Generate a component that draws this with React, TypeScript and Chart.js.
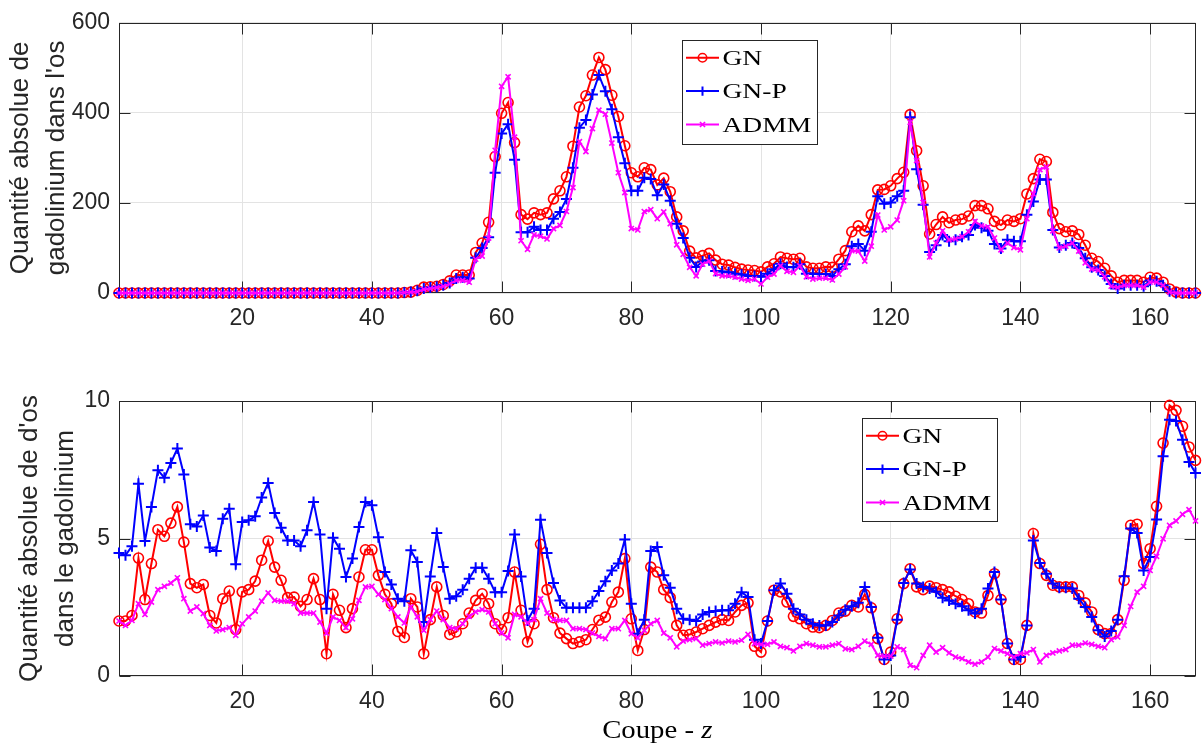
import React, { useEffect, useRef } from 'react';
import { Chart, registerables } from 'chart.js';

Chart.register(...registerables);

// ---------- data ----------
const slices = Array.from({ length: 167 }, (_, i) => i + 1);
const xTickValues = [20, 40, 60, 80, 100, 120, 140, 160];
const topYTicks = [0, 200, 400, 600];
const bottomYTicks = [0, 5, 10];
const seriesNames = ['GN', 'GN-P', 'ADMM'];
const topYTitle = ['Quantité absolue de', "gadolinium dans l'os"];
const bottomYTitle = ["Quantité absolue de d'os", 'dans le gadolinium'];
const xTitleMain = 'Coupe - ';
const xTitleVar = 'z';

const gadoGN = [
  0, 0, 0, 0, 0, 0, 0, 0, 0, 0,
  0, 0, 0, 0, 0, 0, 0, 0, 0, 0,
  0, 0, 0, 0, 0, 0, 0, 0, 0, 0,
  0, 0, 0, 0, 0, 0, 0, 0, 0, 0,
  0, 0, 0, 0, 1, 2, 6, 13, 14, 15,
  19, 27, 40, 40, 40, 90, 111, 157, 303, 399,
  423, 334, 174, 164, 178, 174, 178, 209, 227, 258,
  326, 413, 438, 484, 523, 496, 439, 392, 327, 267,
  258, 278, 274, 240, 255, 225, 169, 138, 93, 78,
  83, 88, 73, 64, 62, 57, 53, 51, 50, 47,
  58, 65, 80, 77, 75, 77, 58, 55, 55, 58,
  57, 75, 94, 136, 149, 138, 174, 229, 230, 238,
  254, 268, 396, 316, 238, 131, 152, 169, 156, 162,
  164, 171, 194, 194, 187, 159, 151, 162, 159, 165,
  220, 254, 297, 292, 179, 143, 136, 138, 130, 106,
  77, 70, 55, 38, 24, 28, 28, 28, 24, 35,
  33, 24, 9, 2, 0, 0, 0,
];

const gadoGNP = [
  0, 0, 0, 0, 0, 0, 0, 0, 0, 0,
  0, 0, 0, 0, 0, 0, 0, 0, 0, 0,
  0, 0, 0, 0, 0, 0, 0, 0, 0, 0,
  0, 0, 0, 0, 0, 0, 0, 0, 0, 0,
  0, 0, 0, 0, 1, 2, 5, 10, 12, 14,
  17, 22, 32, 35, 32, 78, 100, 124, 267, 354,
  375, 296, 135, 135, 147, 140, 140, 165, 180, 209,
  278, 367, 384, 441, 484, 448, 408, 346, 288, 227,
  227, 256, 253, 217, 241, 205, 154, 122, 78, 58,
  70, 73, 49, 48, 46, 43, 41, 38, 38, 36,
  43, 53, 65, 58, 57, 64, 43, 43, 42, 42,
  38, 53, 64, 104, 109, 94, 136, 215, 198, 201,
  215, 227, 390, 275, 196, 91, 106, 129, 115, 118,
  125, 129, 151, 145, 138, 109, 99, 118, 115, 115,
  174, 203, 252, 252, 140, 101, 106, 111, 100, 77,
  57, 51, 38, 20, 10, 17, 17, 17, 15, 28,
  26, 17, 4, 0, 0, 0, 0,
];

const gadoADMM = [
  0, 0, 0, 0, 0, 0, 0, 0, 0, 0,
  0, 0, 0, 0, 0, 0, 0, 0, 0, 0,
  0, 0, 0, 0, 0, 0, 0, 0, 0, 0,
  0, 0, 0, 0, 0, 0, 0, 0, 0, 0,
  0, 0, 0, 0, 1, 2, 3, 8, 10, 12,
  15, 20, 28, 28, 24, 75, 82, 122, 317, 459,
  480, 346, 116, 97, 129, 126, 120, 143, 150, 181,
  234, 336, 314, 365, 406, 397, 333, 267, 223, 143,
  140, 181, 185, 165, 180, 154, 107, 86, 57, 38,
  64, 71, 43, 38, 38, 35, 31, 28, 31, 20,
  35, 42, 60, 48, 46, 60, 36, 31, 33, 33,
  29, 42, 58, 94, 93, 71, 104, 173, 140, 147,
  162, 205, 379, 294, 201, 80, 111, 138, 118, 120,
  125, 136, 159, 149, 147, 122, 96, 111, 101, 96,
  165, 220, 274, 280, 138, 100, 104, 111, 93, 67,
  53, 51, 36, 15, 12, 17, 17, 17, 13, 24,
  24, 17, 2, 0, 0, 0, 0,
];

const boneGN = [
  2.0, 2.0, 2.2, 4.29, 2.78, 4.09, 5.32, 5.08, 5.56, 6.15,
  4.87, 3.36, 3.21, 3.33, 2.2, 1.93, 2.81, 3.09, 1.69, 3.06,
  3.14, 3.45, 4.21, 4.91, 3.96, 3.48, 2.85, 2.87, 2.53, 2.78,
  3.54, 2.78, 0.81, 2.97, 2.39, 1.76, 2.45, 3.6, 4.59, 4.59,
  3.66, 2.97, 2.63, 1.62, 1.4, 2.81, 2.51, 0.81, 2.05, 3.24,
  2.2, 1.51, 1.6, 1.9, 2.29, 2.75, 2.99, 2.63, 1.9, 1.69,
  2.12, 3.78, 2.39, 1.24, 1.9, 4.79, 3.14, 2.12, 1.56, 1.36,
  1.18, 1.24, 1.32, 1.69, 2.03, 2.14, 2.69, 3.05, 4.27, 2.08,
  0.93, 1.69, 3.96, 3.78, 3.14, 2.85, 1.84, 1.48, 1.51, 1.6,
  1.72, 1.84, 1.96, 2.05, 2.02, 2.33, 2.57, 2.66, 1.08, 0.87,
  2.0, 3.12, 3.06, 2.69, 2.17, 2.08, 1.9, 1.78, 1.76, 1.84,
  2.02, 2.29, 2.36, 2.57, 2.51, 2.97, 2.48, 1.36, 0.6, 0.87,
  2.08, 3.36, 3.9, 3.24, 3.14, 3.27, 3.21, 3.14, 3.06, 2.9,
  2.78, 2.63, 2.33, 2.29, 2.93, 3.72, 2.78, 1.18, 0.6, 0.6,
  1.84, 5.18, 4.09, 3.66, 3.3, 3.24, 3.24, 3.24, 2.93, 2.66,
  2.33, 1.69, 1.54, 1.54, 2.05, 3.48, 5.48, 5.52, 4.09, 4.63,
  6.17, 8.47, 9.84, 9.66, 9.08, 8.33, 7.84,
];

const boneGNP = [
  4.47, 4.39, 4.72, 6.99, 4.91, 6.15, 7.48, 7.21, 7.75, 8.27,
  7.33, 5.52, 5.44, 5.84, 4.67, 4.55, 5.72, 6.08, 4.06, 5.6,
  5.66, 5.81, 6.49, 7.02, 5.93, 5.39, 4.93, 4.93, 4.72, 5.3,
  6.33, 5.15, 2.45, 5.03, 4.63, 3.6, 4.27, 5.42, 6.33, 6.21,
  5.05, 3.78, 3.33, 2.81, 2.72, 4.57, 4.15, 1.96, 3.62, 5.2,
  3.96, 2.81, 2.9, 3.14, 3.54, 3.94, 3.94, 3.54, 3.05, 3.05,
  3.82, 5.15, 3.62, 2.02, 2.45, 5.68, 4.47, 3.38, 2.75, 2.48,
  2.48, 2.48, 2.48, 2.72, 3.09, 3.45, 3.84, 4.09, 4.96, 2.63,
  1.54, 2.05, 4.55, 4.69, 3.66, 3.21, 2.45, 2.08, 2.05, 2.0,
  2.24, 2.33, 2.36, 2.39, 2.39, 2.63, 3.05, 2.87, 1.32, 1.18,
  2.0, 3.12, 3.36, 2.99, 2.45, 2.24, 2.05, 1.9, 1.84, 1.84,
  1.96, 2.2, 2.41, 2.54, 2.66, 3.24, 2.51, 1.39, 0.6, 0.75,
  2.05, 3.38, 3.87, 3.36, 3.24, 3.18, 3.06, 2.85, 2.75, 2.63,
  2.54, 2.39, 2.27, 2.45, 3.18, 3.78, 2.78, 1.18, 0.6, 0.69,
  1.84, 4.93, 4.11, 3.72, 3.36, 3.21, 3.21, 3.18, 2.81, 2.51,
  2.15, 1.66, 1.44, 1.64, 2.05, 3.63, 5.36, 5.2, 3.84, 4.33,
  5.69, 7.99, 9.32, 9.27, 8.59, 7.78, 7.38,
];

const boneADMM = [
  2.0, 1.84, 2.02, 2.63, 2.24, 2.69, 3.14, 3.26, 3.38, 3.57,
  2.81, 2.36, 2.51, 2.27, 1.84, 1.64, 1.69, 1.76, 1.48, 1.9,
  2.15, 2.36, 2.72, 3.02, 2.75, 2.72, 2.72, 2.63, 2.29, 2.29,
  2.29, 1.96, 1.56, 2.15, 2.02, 1.76, 2.08, 2.75, 3.24, 3.26,
  2.97, 2.78, 2.45, 2.15, 1.93, 2.51, 2.15, 1.66, 2.05, 2.36,
  2.05, 1.76, 1.72, 1.9, 2.17, 2.33, 2.41, 2.33, 1.9, 1.56,
  1.39, 2.24, 2.15, 1.93, 2.05, 2.81, 2.29, 2.05, 2.02, 2.02,
  1.72, 1.72, 1.69, 1.56, 1.44, 1.36, 1.72, 1.72, 2.02, 1.54,
  1.39, 1.66, 1.9, 2.02, 1.56, 1.39, 1.06, 1.27, 1.32, 1.36,
  1.12, 1.18, 1.24, 1.2, 1.27, 1.24, 1.3, 1.51, 1.18, 1.15,
  1.15, 1.24, 1.08, 1.03, 0.91, 1.08, 1.18, 1.12, 1.06, 1.06,
  1.12, 1.18, 0.99, 0.96, 1.08, 1.27, 1.15, 0.75, 0.72, 0.72,
  1.06, 0.96, 0.39, 0.3, 0.75, 1.12, 0.87, 1.03, 0.84, 0.69,
  0.63, 0.51, 0.43, 0.51, 0.69, 1.0, 0.91, 0.81, 0.69, 0.81,
  0.84, 0.96, 0.51, 0.75, 0.84, 0.91, 0.96, 1.12, 1.12, 1.2,
  1.15, 1.08, 1.03, 1.32, 1.42, 1.84, 2.53, 3.05, 3.26, 3.84,
  4.35, 4.99, 5.48, 5.64, 5.88, 6.05, 5.64,
];

// ---------- styles ----------
const RED = '#ff0000';
const BLUE = '#0000ff';
const MAGENTA = '#ff00ff';
const AXIS = '#262626';
const GRID = '#e3e3e3';
const SANS = "'Liberation Sans', Arial, Helvetica, sans-serif";
const SERIF = "'Liberation Serif', 'Times New Roman', serif";

const seriesStyles = [
  { color: RED, pointStyle: 'circle', radius: 5, pbw: 1.6, order: 2 },
  { color: BLUE, pointStyle: 'cross', radius: 5.5, pbw: 2, order: 1 },
  { color: MAGENTA, pointStyle: 'crossRot', radius: 3.6, pbw: 1.6, order: 0 },
];

function drawMarker(ctx: CanvasRenderingContext2D, style: string, x: number, y: number, r: number) {
  ctx.beginPath();
  if (style === 'circle') {
    ctx.arc(x, y, r, 0, Math.PI * 2);
  } else if (style === 'cross') {
    ctx.moveTo(x - r, y); ctx.lineTo(x + r, y);
    ctx.moveTo(x, y - r); ctx.lineTo(x, y + r);
  } else {
    const d = r * Math.SQRT1_2;
    ctx.moveTo(x - d, y - d); ctx.lineTo(x + d, y + d);
    ctx.moveTo(x - d, y + d); ctx.lineTo(x + d, y - d);
  }
  ctx.stroke();
}

const boxPlugin = {
  id: 'matlabBox',
  beforeDatasetsDraw(chart: any) {
    const { ctx, chartArea: a, scales } = chart;
    const xs = scales.x;
    const ys = scales.y;
    const L = Math.round(a.left) + 0.5;
    const R = Math.round(a.right) - 0.5;
    const T = Math.round(a.top) + 0.5;
    const B = Math.round(a.bottom) - 0.5;
    const tl = 11;
    ctx.save();
    ctx.strokeStyle = AXIS;
    ctx.lineWidth = 1;
    ctx.strokeRect(L, T, R - L, B - T);
    ctx.beginPath();
    xs.ticks.forEach((t: any) => {
      const px = Math.round(xs.getPixelForValue(t.value)) + 0.5;
      ctx.moveTo(px, B); ctx.lineTo(px, B - tl);
      ctx.moveTo(px, T); ctx.lineTo(px, T + tl);
    });
    ys.ticks.forEach((t: any) => {
      const py = Math.round(ys.getPixelForValue(t.value)) + 0.5;
      ctx.moveTo(L, py); ctx.lineTo(L + tl, py);
      ctx.moveTo(R, py); ctx.lineTo(R - tl, py);
    });
    ctx.stroke();
    ctx.restore();
  },
};

const legendPlugin = {
  id: 'matlabLegend',
  afterDraw(chart: any, _args: any, opts: any) {
    if (!opts || opts.left === undefined) return;
    const { ctx, chartArea: a } = chart;
    const bx = Math.round(a.left + opts.left) + 0.5;
    const by = Math.round(a.top + opts.top) + 0.5;
    const bw = opts.width;
    const bh = opts.height;
    ctx.save();
    ctx.fillStyle = '#ffffff';
    ctx.fillRect(bx, by, bw, bh);
    ctx.strokeStyle = AXIS;
    ctx.lineWidth = 1;
    ctx.strokeRect(bx, by, bw, bh);
    const rows = [17.3, 50.6, 84];
    seriesNames.forEach((name, i) => {
      const st = seriesStyles[i];
      const cy = by + rows[i];
      ctx.strokeStyle = st.color;
      ctx.lineWidth = 2;
      ctx.beginPath();
      ctx.moveTo(bx + 3.5, cy);
      ctx.lineTo(bx + 36.5, cy);
      ctx.stroke();
      ctx.lineWidth = st.pbw;
      drawMarker(ctx, st.pointStyle, bx + 20, cy, st.pointStyle === 'crossRot' ? 3.6 : st.radius * 0.85);
      ctx.save();
      ctx.translate(bx + 40, cy + 7.3);
      ctx.scale(1.25, 1);
      ctx.fillStyle = '#000000';
      ctx.font = `22px ${SERIF}`;
      ctx.textBaseline = 'alphabetic';
      ctx.textAlign = 'left';
      ctx.fillText(name, 0, 0);
      ctx.restore();
    });
    ctx.restore();
  },
};

const xLabelPlugin = {
  id: 'matlabXLabel',
  afterDraw(chart: any, _args: any, opts: any) {
    if (!opts || !opts.show) return;
    const { ctx, chartArea: a } = chart;
    const sx = 1.15;
    ctx.save();
    ctx.fillStyle = '#000000';
    ctx.textBaseline = 'alphabetic';
    ctx.textAlign = 'left';
    ctx.font = `25px ${SERIF}`;
    const w1 = ctx.measureText(xTitleMain).width;
    ctx.font = `italic 25px ${SERIF}`;
    const w2 = ctx.measureText(xTitleVar).width;
    const total = (w1 + w2) * sx;
    const cx = (a.left + a.right) / 2;
    const x0 = cx - total / 2;
    const y0 = opts.baseline;
    ctx.translate(x0, y0);
    ctx.scale(sx, 1);
    ctx.font = `25px ${SERIF}`;
    ctx.fillText(xTitleMain, 0, 0);
    ctx.font = `italic 25px ${SERIF}`;
    ctx.fillText(xTitleVar, w1, 0);
    ctx.restore();
  },
};

function makeConfig(p: {
  series: number[][];
  yMax: number;
  yTicks: number[];
  yTitle: string[];
  titlePad: number;
  padTop: number;
  xAxisHeight: number;
  legend: { left: number; top: number; width: number; height: number };
  xLabel: { show: boolean; baseline?: number };
}): any {
  return {
    type: 'line',
    data: {
      labels: slices,
      datasets: p.series.map((d, i) => {
        const st = seriesStyles[i];
        return {
          label: seriesNames[i],
          data: d,
          borderColor: st.color,
          backgroundColor: 'rgba(0,0,0,0)',
          borderWidth: 2,
          tension: 0,
          pointStyle: st.pointStyle,
          pointRadius: st.radius,
          pointBorderWidth: st.pbw,
          pointBorderColor: st.color,
          pointBackgroundColor: 'rgba(0,0,0,0)',
          order: st.order,
          clip: false,
        };
      }),
    },
    options: {
      responsive: false,
      animation: false,
      events: [],
      devicePixelRatio: 1,
      layout: { padding: { top: p.padTop, right: 4, left: 0, bottom: 0 } },
      plugins: {
        legend: { display: false },
        tooltip: { enabled: false },
        matlabLegend: p.legend,
        matlabXLabel: p.xLabel,
      },
      scales: {
        x: {
          type: 'linear',
          min: 1,
          max: 167,
          afterBuildTicks: (s: any) => {
            s.ticks = xTickValues.map((v) => ({ value: v }));
          },
          afterFit: (s: any) => {
            s.height = p.xAxisHeight;
          },
          grid: { color: GRID, lineWidth: 1, drawTicks: false },
          border: { display: false },
          ticks: {
            color: AXIS,
            font: { family: SANS, size: 23 },
            padding: 12,
            maxRotation: 0,
            autoSkip: false,
            callback: (v: any) => String(v),
          },
        },
        y: {
          type: 'linear',
          min: 0,
          max: p.yMax,
          afterBuildTicks: (s: any) => {
            s.ticks = p.yTicks.map((v) => ({ value: v }));
          },
          afterFit: (s: any) => {
            s.width = 119;
          },
          grid: { color: GRID, lineWidth: 1, drawTicks: false },
          border: { display: false },
          ticks: {
            color: AXIS,
            font: { family: SANS, size: 23 },
            padding: 9,
            callback: (v: any) => String(v),
          },
          title: {
            display: true,
            text: p.yTitle,
            color: AXIS,
            font: { family: SANS, size: 26, lineHeight: 1.38 },
            padding: { top: p.titlePad, bottom: 0 },
          },
        },
      },
    },
    plugins: [boxPlugin, legendPlugin, xLabelPlugin],
  };
}

export default function App() {
  const topRef = useRef<HTMLCanvasElement | null>(null);
  const botRef = useRef<HTMLCanvasElement | null>(null);

  useEffect(() => {
    if (!topRef.current || !botRef.current) return;
    const top = new Chart(
      topRef.current,
      makeConfig({
        series: [gadoGN, gadoGNP, gadoADMM],
        yMax: 600,
        yTicks: topYTicks,
        yTitle: topYTitle,
        titlePad: 3,
        padTop: 17,
        xAxisHeight: 57,
        legend: { left: 563, top: 17, width: 135, height: 104 },
        xLabel: { show: false },
      })
    );
    const bottom = new Chart(
      botRef.current,
      makeConfig({
        series: [boneGN, boneGNP, boneADMM],
        yMax: 10,
        yTicks: bottomYTicks,
        yTitle: bottomYTitle,
        titlePad: 12,
        padTop: 51,
        xAxisHeight: 68,
        legend: { left: 743, top: 17, width: 135, height: 103 },
        xLabel: { show: true, baseline: 388 },
      })
    );
    return () => {
      top.destroy();
      bottom.destroy();
    };
  }, []);

  return (
    <div style={{ position: 'absolute', left: 0, top: 0, width: 1203, height: 744, background: '#ffffff' }}>
      <canvas ref={topRef} width={1203} height={350} style={{ position: 'absolute', left: 0, top: 0, width: 1203, height: 350 }} />
      <canvas ref={botRef} width={1203} height={394} style={{ position: 'absolute', left: 0, top: 350, width: 1203, height: 394 }} />
    </div>
  );
}
